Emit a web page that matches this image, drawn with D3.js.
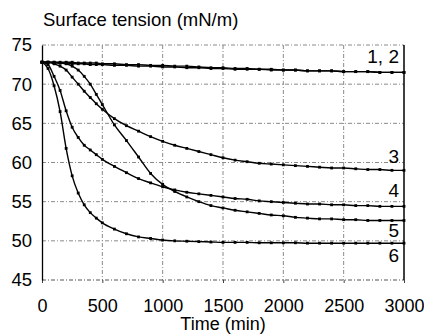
<!DOCTYPE html>
<html>
<head>
<meta charset="utf-8">
<script src="https://cdn.jsdelivr.net/npm/d3@7"></script>
<style>
  body { margin: 0; background: #fff; }
  text { font-family: "Liberation Sans", Arial, sans-serif; fill: #000; }
</style>
</head>
<body>
<div id="chart"></div>
<script>
// time points (min)
const times = [0, 50, 100, 150, 200, 250, 300, 350, 400, 450, 500, 600, 700, 800, 900, 1000,
  1100, 1200, 1300, 1400, 1500, 1600, 1700, 1800, 1900, 2000, 2100, 2200, 2300, 2400, 2500,
  2600, 2700, 2800, 2900, 3000];

// surface tension (mN/m)
const curve1 = [72.8, 72.8, 72.8, 72.8, 72.8, 72.8, 72.7, 72.7, 72.7, 72.7, 72.6, 72.6, 72.5, 72.5, 72.4, 72.4,
  72.3, 72.3, 72.2, 72.1, 72.1, 72.0, 72.0, 71.9, 71.9, 71.8, 71.8, 71.7, 71.7, 71.7, 71.6,
  71.6, 71.6, 71.5, 71.5, 71.5];
const curve2 = [72.8, 72.8, 72.7, 72.7, 72.7, 72.6, 72.6, 72.6, 72.5, 72.5, 72.5, 72.4, 72.4, 72.3, 72.3, 72.2,
  72.2, 72.1, 72.1, 72.0, 72.0, 71.9, 71.9, 71.9, 71.8, 71.8, 71.8, 71.7, 71.7, 71.7, 71.6,
  71.6, 71.6, 71.5, 71.5, 71.5];
const curve3 = [72.8, 72.8, 72.6, 72.3, 71.8, 70.9, 70.0, 69.1, 68.3, 67.5, 66.8, 65.6, 64.7, 64.0, 63.3, 62.7,
  62.2, 61.8, 61.4, 61.0, 60.6, 60.3, 60.1, 59.9, 59.8, 59.7, 59.6, 59.5, 59.4, 59.3, 59.3,
  59.2, 59.1, 59.1, 59.0, 59.0];
const curve4 = [72.8, 72.5, 71.0, 69.2, 66.6, 64.5, 63.2, 62.2, 61.6, 61.0, 60.4, 59.5, 58.7, 57.95, 57.4, 56.9,
  56.5, 56.2, 56.0, 55.8, 55.6, 55.4, 55.3, 55.1, 55.0, 54.9, 54.8, 54.7, 54.7, 54.6, 54.6,
  54.5, 54.5, 54.4, 54.4, 54.4];
const curve5 = [72.8, 72.8, 72.8, 72.7, 72.6, 72.3, 71.8, 71.0, 70.0, 68.7, 67.4, 64.8, 62.8, 60.7, 58.6, 57.2,
  56.3, 55.6, 55.0, 54.5, 54.2, 53.9, 53.7, 53.5, 53.3, 53.2, 53.0, 52.9, 52.8, 52.8, 52.7,
  52.7, 52.6, 52.6, 52.6, 52.6];
const curve6 = [72.8, 72.0, 69.8, 66.5, 61.8, 58.3, 56.1, 54.6, 53.6, 52.9, 52.3, 51.5, 50.9, 50.5, 50.3, 50.1,
  50.0, 49.95, 49.9, 49.85, 49.8, 49.8, 49.8, 49.75, 49.75, 49.75, 49.75, 49.7, 49.7, 49.7, 49.7,
  49.7, 49.7, 49.7, 49.7, 49.7];

const xTicks = [0, 500, 1000, 1500, 2000, 2500, 3000];
const yTicks = [45, 50, 55, 60, 65, 70, 75];

const series = [curve1, curve2, curve3, curve4, curve5, curve6];
const curveLabels = ["1, 2", "3", "4", "5", "6"];
const labelValue = [71.5, 59.0, 54.4, 52.6, 49.7];  // curve end value each label sits next to
const labelDy = [-9, -7, -9, 17, 19];

const W = 424, H = 335;
const margin = { top: 45, right: 20, bottom: 55, left: 42 },
  width = W - margin.left - margin.right,
  height = H - margin.top - margin.bottom;

const svg = d3.select("#chart")
  .append("svg")
  .attr("width", W)
  .attr("height", H);

const g = svg.append("g")
  .attr("transform", `translate(${margin.left}, ${margin.top})`);

const x = d3.scaleLinear().domain([0, 3000]).range([0, width]);
const y = d3.scaleLinear().domain([45, 75]).range([height, 0]);

// grid
g.append("g")
  .selectAll("line")
  .data(xTicks.slice(1, -1))
  .join("line")
  .attr("x1", d => x(d)).attr("x2", d => x(d))
  .attr("y1", 0).attr("y2", height)
  .attr("stroke", "#8a8a8a")
  .attr("stroke-width", 1)
  .attr("stroke-dasharray", "4,2,1,2");

g.append("g")
  .selectAll("line")
  .data(yTicks)
  .join("line")
  .attr("x1", 0).attr("x2", width)
  .attr("y1", d => y(d)).attr("y2", d => y(d))
  .attr("stroke", d => d === 45 ? "#555" : "#8a8a8a")
  .attr("stroke-width", 1)
  .attr("stroke-dasharray", "4,2,1,2");

// axes
const xAxis = g.append("g")
  .attr("transform", `translate(0, ${height})`)
  .call(d3.axisBottom(x).tickValues(xTicks).tickFormat(d3.format("d"))
    .tickSize(3).tickPadding(16).tickSizeOuter(0));
xAxis.select(".domain").remove();
xAxis.selectAll("text").style("font-size", "18px");
xAxis.selectAll("line").attr("stroke", "#444");

const yAxis = g.append("g")
  .call(d3.axisLeft(y).tickValues(yTicks).tickSize(0).tickPadding(10));
yAxis.select(".domain").attr("stroke", "#000").attr("stroke-width", 1.3);
yAxis.selectAll("text").style("font-size", "18.5px");

// right border
g.append("line")
  .attr("x1", width).attr("x2", width)
  .attr("y1", 0).attr("y2", height)
  .attr("stroke", "#000")
  .attr("stroke-width", 1.5);

// curves
const line = d3.line()
  .x((d, i) => x(times[i]))
  .y(d => y(d))
  .curve(d3.curveMonotoneX);

series.forEach(vals => {
  g.append("path")
    .datum(vals)
    .attr("fill", "none")
    .attr("stroke", "#000")
    .attr("stroke-width", 1.4)
    .attr("d", line);

  g.append("g")
    .selectAll("rect")
    .data(vals)
    .join("rect")
    .attr("x", (d, i) => x(times[i]) - 1.4)
    .attr("y", d => y(d) - 1.4)
    .attr("width", 2.8)
    .attr("height", 2.8)
    .attr("fill", "#000");
});

// curve labels
g.append("g")
  .selectAll("text")
  .data(curveLabels)
  .join("text")
  .attr("x", width - 5)
  .attr("y", (d, i) => y(labelValue[i]) + labelDy[i])
  .attr("text-anchor", "end")
  .style("font-size", "19px")
  .text(d => d);

// titles
svg.append("text")
  .attr("x", 43)
  .attr("y", 26)
  .style("font-size", "18.5px")
  .text("Surface tension (mN/m)");

svg.append("text")
  .attr("x", margin.left + width / 2)
  .attr("y", 330)
  .attr("text-anchor", "middle")
  .style("font-size", "18px")
  .text("Time (min)");
</script>
</body>
</html>
